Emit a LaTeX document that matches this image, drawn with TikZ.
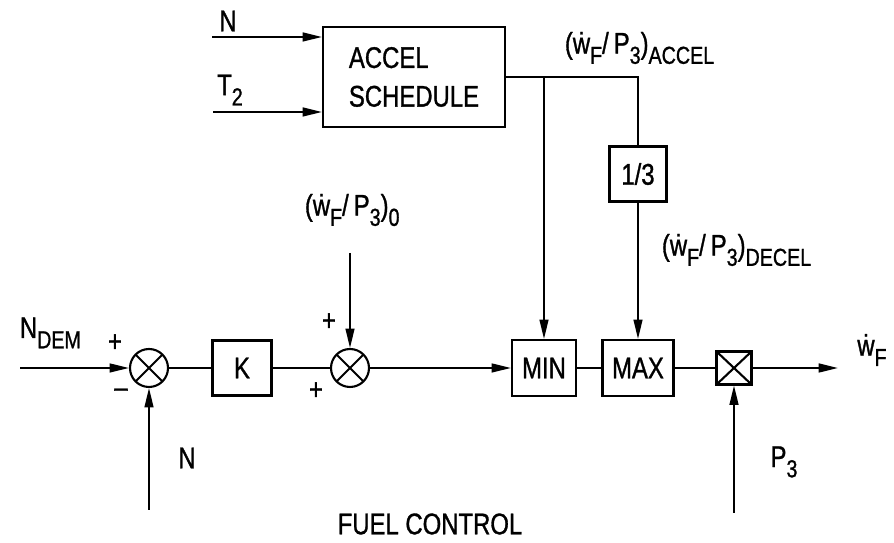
\documentclass[tikz,border=0pt]{standalone}
\usepackage{fontspec}
\setmainfont{Liberation Sans}[FakeStretch=0.8, FakeBold=1]
\usetikzlibrary{arrows.meta,positioning}
\newcommand{\lo}[1]{\raisebox{-0.65ex}{\fontsize{14}{14}\selectfont #1}}

\begin{document}
\begin{tikzpicture}[x=0.02cm, y=-0.02cm, line width=1.2pt,
  font=\fontsize{17}{22}\selectfont,
  blk/.style={draw, inner sep=0pt},
  summer/.style={draw, circle, minimum size=0.76cm, inner sep=0pt,
    path picture={\draw (path picture bounding box.north west) -- (path picture bounding box.south east)
      (path picture bounding box.north east) -- (path picture bounding box.south west);}},
  mult/.style={draw, minimum width=0.7cm, minimum height=0.66cm, inner sep=0pt,
    path picture={\draw (path picture bounding box.north west) -- (path picture bounding box.south east)
      (path picture bounding box.north east) -- (path picture bounding box.south west);}},
  sig/.style={-{Triangle[length=11pt,width=5pt]}}]
\useasboundingbox (0,0) rectangle (894,543);

% blocks
\node[blk, minimum width=3.64cm, minimum height=2cm, align=left] (accel) at (414,77) {ACCEL\\SCHEDULE};
\node[summer] (sum1) at (149,368) {};
\node[blk, minimum width=1.18cm, minimum height=1.1cm] (k) at (242,368) {K};
\node[summer] (sum2) at (350,368) {};
\node[blk, minimum width=1.28cm, minimum height=1.12cm] (min) at (544,368) {MIN};
\node[blk, minimum width=1.42cm, minimum height=1.12cm] (max) at (638,368) {MAX};
\node[blk, minimum width=1.14cm, minimum height=1.1cm] (third) at (638,174) {1/3};
\node[mult] (mul) at (734,368) {};

% free ends
\coordinate (ndem) at (20,368);
\coordinate (nfb) at (149,510);
\coordinate (w0) at (350,253);
\coordinate (wout) at (838,368);
\coordinate (p3) at (734,513);
\coordinate (nacc) at (212,37);
\coordinate (t2) at (213,112);

% signals
\draw[sig] (ndem) -- (sum1);
\draw[sig] (nfb) -- (sum1);
\draw (sum1) -- (k);
\draw (k) -- (sum2);
\draw[sig] (w0) -- (sum2);
\draw[sig] (sum2) -- (min);
\draw (min) -- (max);
\draw (max) -- (mul);
\draw[sig] (mul) -- (wout);
\draw[sig] (p3) -- (mul);
\draw[sig] (nacc) -- (nacc -| accel.west);
\draw[sig] (t2) -- (t2 -| accel.west);
\draw (accel.east) -| (third.north);
\draw[sig] (min.north |- accel.east) -- (min.north);
\draw[sig] (third) -- (max);

% labels
\node (lnacc) at (228,21) {N};
\node (lt2) at (230,90) {T\lo{2}};
\node[anchor=base west] (lndem) at (13,338) {N\lo{DEM}};
\node (lp1) at (115,343) {+};
\node (lm1) at (121,393) {\textendash};
\node (lnfb) at (187,458) {N};
\node (lp2) at (329,322) {+};
\node (lp3) at (316,391) {+};
\node[anchor=west] (lw0) at (298,210) {(\.{w}\lo{F}/\,P\lo{3})\lo{0}};
\node[anchor=west] (lacc) at (558,48) {(\.{w}\lo{F}/\,P\lo{3})\lo{ACCEL}};
\node[anchor=west] (ldec) at (655,250) {(\.{w}\lo{F}/\,P\lo{3})\lo{DECEL}};
\node (lwout) at (872,350) {\.{w}\lo{F}};
\node (lp3in) at (784,462) {P\lo{3}};
\node (ltitle) at (430,524) {FUEL CONTROL};
\end{tikzpicture}
\end{document}
